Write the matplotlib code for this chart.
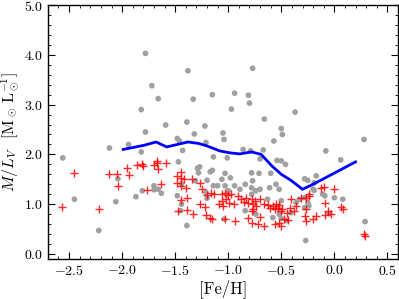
import matplotlib
matplotlib.use("Agg")
import matplotlib.pyplot as plt
from matplotlib.ticker import MultipleLocator

plt.rcParams['font.family'] = 'serif'
plt.rcParams['font.serif'] = ['cmr10']
plt.rcParams['mathtext.fontset'] = 'cm'
plt.rcParams['axes.formatter.use_mathtext'] = True
plt.rcParams['axes.unicode_minus'] = True

gray_feh = [-2.56, -2.45, -2.22, -2.12, -1.94, -2.04, -2.06, -1.87, -1.81, -1.70, -1.70, -1.66, -1.63, -1.39,
            -1.78, -1.38, -1.72, -1.66, -1.82, -1.33, -1.15, -1.59, -1.39, -1.22,
            -0.77, -0.94, -0.81, -0.80, -0.97, -0.37, -0.66, -0.50,
            -1.78, -1.32, -1.48, -1.46, -1.21, -1.82, -1.43, -1.14, -1.47, -1.27, -1.29, -1.15, -1.17, -1.28,
            -1.48, -1.44, -1.45, -1.44, -1.20, -1.14, -1.21, -1.20, -1.10, -1.31,
            -1.06, -0.98, -1.03, -0.94, -1.00, -0.89, -0.84, -0.78, -0.77, -0.74, -0.78, -0.70, -0.61, -0.55,
            -0.52, -0.63, -0.50, -0.33, -0.28, -0.25, -0.58, -0.52, -0.45, -0.27, -1.04, -0.84, -0.74, -0.36,
            -1.05, -1.04, -0.49, -0.57, -0.86, -0.79, -0.67, -1.01, -0.70, -0.54, -0.50, -0.46, -1.03, -0.78,
            -0.71, -0.60,
            -0.08, 0.06, 0.28, -0.17, -0.28, -0.25, -0.19, -0.19, -0.11, -0.09, 0.00, 0.08, -0.24, -0.05,
            0.29, -0.20, -0.50, -0.41, -0.28]
gray_ml = [1.93, 1.10, 0.47, 2.13, 2.20, 1.51, 1.05, 1.15, 1.27, 1.37, 1.29, 1.30, 1.22, 0.57,
           4.03, 3.68, 3.38, 3.12, 2.90, 3.11, 3.20, 2.59, 2.65, 2.57,
           3.73, 3.23, 3.19, 3.03, 2.91, 2.85, 2.71, 2.52,
           2.45, 2.41, 2.32, 2.27, 2.24, 2.05, 2.08, 1.95, 1.85, 1.75, 1.72, 1.68, 1.65, 1.63,
           1.17, 1.41, 0.87, 1.00, 1.48, 1.37, 1.23, 1.12, 1.37, 1.47,
           1.50, 1.53, 1.37, 1.37, 1.27, 1.30, 1.40, 1.33, 1.47, 1.27, 1.20, 1.30, 1.33, 1.40,
           1.30, 1.10, 1.07, 1.10, 1.13, 1.03, 0.73, 0.80, 0.67, 0.27, 0.70, 0.87, 0.80, 1.03,
           2.43, 2.30, 2.40, 2.27, 2.10, 2.07, 2.09, 1.93, 1.91, 1.88, 1.87, 1.80, 1.62, 1.63,
           1.62, 1.62,
           2.07, 1.89, 2.30, 1.57, 1.51, 1.48, 1.43, 1.28, 1.20, 1.17, 1.13, 1.10, 0.97, 0.81,
           0.65, 1.30, 0.71, 0.83, 0.93]

red_feh = [-2.57, -2.45, -2.22, -2.12, -2.05, -2.04, -1.95, -1.94,
           -1.86, -1.81, -1.80, -1.70, -1.67, -1.66, -1.59, -1.67, -1.77, -1.63, -1.45,
           -1.48, -1.45, -1.42, -1.48, -1.45, -1.40, -1.34, -1.27, -1.25, -1.16, -1.13, -1.20, -1.09,
           -1.45, -1.39, -1.27, -1.22, -1.47, -1.39, -1.33, -1.21, -1.17, -1.15,
           -1.06, -1.03, -1.00, -0.97, -1.06, -1.02, -0.99, -0.95, -1.05, -0.91, -0.88, -0.85, -0.83,
           -0.81, -0.78, -0.77, -0.75, -0.74, -0.70, -0.77, -0.66, -0.63, -0.61, -0.58, -0.55, -0.53,
           -0.52, -0.49, -0.56, -0.50, -0.41, -0.36, -0.38, -0.45, -0.42, -1.03, -0.94, -0.81, -0.70,
           -0.78, -0.72, -0.66, -0.56, -0.52, -0.50, -0.47, -0.44, -0.78,
           -0.13, -0.10, 0.00, -0.235, -0.085, 0.06, 0.08, -0.06, -0.03, -0.09, -0.17, -0.20, 0.28, 0.29,
           -0.24, -0.27, -0.31, -0.27, -0.28, -0.27]
red_ml = [0.95, 1.62, 0.91, 1.60, 1.60, 1.37, 1.73, 1.58,
          1.78, 1.80, 1.77, 1.78, 1.83, 1.70, 1.83, 1.87, 1.28, 1.41, 1.64,
          1.57, 1.53, 1.50, 1.43, 1.37, 1.32, 1.50, 1.43, 1.30, 1.23, 1.20, 1.19, 1.01,
          1.08, 1.12, 1.00, 0.95, 0.87, 0.88, 0.81, 0.79, 0.72, 0.70,
          1.20, 1.23, 1.19, 1.20, 1.07, 1.10, 1.03, 1.00, 0.97, 1.17, 1.10, 1.05, 1.13,
          1.03, 1.10, 1.00, 1.07, 0.97, 1.10, 0.90, 1.00, 0.99, 0.93, 0.97, 1.01, 0.93,
          0.99, 0.90, 0.90, 0.87, 1.10, 0.97, 0.87, 0.83, 0.93, 0.70, 0.67, 0.73, 0.75,
          0.63, 0.60, 0.57, 0.60, 0.63, 0.57, 0.70, 0.68, 0.87,
          1.33, 1.35, 1.30, 1.17, 1.03, 0.95, 0.90, 0.87, 0.81, 0.79, 0.77, 0.70, 0.40, 0.37,
          1.20, 1.13, 1.13, 0.90, 0.77, 0.67]

line_feh = [-1.99, -1.80, -1.68, -1.58, -1.48, -1.38, -1.28, -1.20, -1.08, -0.98, -0.89,
            -0.78, -0.69, -0.59, -0.50, -0.41, -0.30, -0.20, 0.20]
line_ml = [2.10, 2.18, 2.25, 2.15, 2.20, 2.25, 2.22, 2.17, 2.07, 2.03, 2.01,
           2.05, 2.00, 1.77, 1.60, 1.48, 1.30, 1.40, 1.85]

fig = plt.figure(figsize=(3.99, 2.99), dpi=100)
ax = fig.add_axes([0.12, 0.134, 0.8775, 0.849])

ax.scatter(gray_feh, gray_ml, s=17, color='#a0a0a0', edgecolors='none', zorder=2)
ax.plot(red_feh, red_ml, linestyle='none', marker='+', markersize=6, markeredgewidth=1.0,
        color='red', alpha=0.85, zorder=3)
ax.plot(line_feh, line_ml, color='blue', linewidth=2, zorder=4)

ax.set_xlim(-2.7, 0.6)
ax.set_ylim(-0.1, 5.0)
ax.xaxis.set_major_locator(MultipleLocator(0.5))
ax.xaxis.set_minor_locator(MultipleLocator(0.1))
ax.yaxis.set_major_locator(MultipleLocator(1.0))
ax.yaxis.set_minor_locator(MultipleLocator(0.2))
ax.xaxis.set_major_formatter(plt.FuncFormatter(lambda v, p: f"${v:.1f}$"))
ax.yaxis.set_major_formatter(plt.FuncFormatter(lambda v, p: f"${v:.1f}$"))
ax.tick_params(which='both', direction='in', top=True, right=True, labelsize=10)
ax.tick_params(which='major', length=5, width=0.8)
ax.tick_params(which='minor', length=2.5, width=0.6)
for s in ax.spines.values():
    s.set_linewidth(1.0)

ax.set_xlabel('[Fe/H]', fontsize=12, labelpad=1)
ax.set_ylabel(r'$M/L_V\;\;\; [\mathrm{M}_\odot\, \mathrm{L}_\odot^{-1}]$', fontsize=11.5, labelpad=2)

fig.savefig('out.png', dpi=100)
